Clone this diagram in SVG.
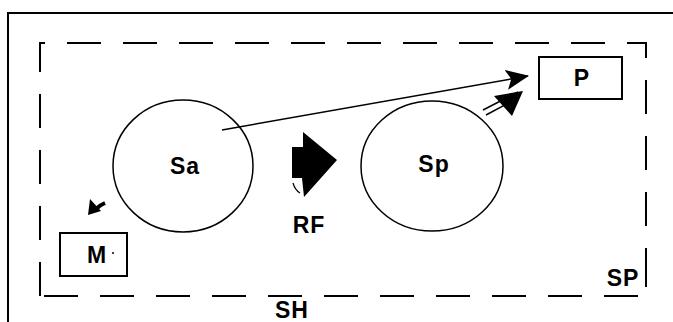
<svg xmlns="http://www.w3.org/2000/svg" width="673" height="322" viewBox="0 0 673 322">
<defs>
<style>
.t{font-family:"Liberation Sans",Arial,sans-serif;font-weight:bold;font-size:23px;letter-spacing:1px;fill:#000;text-anchor:middle}
.c{fill:none;stroke:#000;stroke-width:1.5}
.b{fill:#fff;stroke:#000;stroke-width:2}
.l{fill:none;stroke:#000;stroke-width:1.5}
</style>
<marker id="ah" markerUnits="userSpaceOnUse" markerWidth="30" markerHeight="26" refX="22" refY="11" orient="auto">
<path d="M0,1 L23,11 L0,21 L5,11 Z" fill="#000"/>
</marker>
</defs>
<rect width="673" height="322" fill="#fff"/>
<g id="frame">
<path d="M8,322 V13 H673" fill="none" stroke="#000" stroke-width="2"/>
</g>
<g id="SH">
<path d="M40,296 V43 H646 V296 Z" fill="none" stroke="#000" stroke-width="2" stroke-dasharray="34 22"/>
<text class="t" x="292" y="318">SH</text>
</g>
<g id="SP">
<path d="M646,270 V287" fill="none" stroke="#000" stroke-width="2"/>
<text class="t" x="623" y="286">SP</text>
</g>
<g id="Sa">
<ellipse class="c" cx="183" cy="166" rx="70" ry="66"/>
<text class="t" x="185" y="174">Sa</text>
</g>
<g id="Sp">
<ellipse class="c" cx="432" cy="166" rx="71" ry="65"/>
<text class="t" x="434" y="172">Sp</text>
</g>
<g id="P">
<rect class="b" x="539" y="57" width="83" height="42"/>
<text class="t" x="582" y="86">P</text>
</g>
<g id="M">
<rect class="b" x="60" y="233" width="67" height="43"/>
<text class="t" x="97" y="263">M</text>
<circle cx="113" cy="253" r="1" fill="#000"/>
</g>
<g id="RF">
<polygon points="292,147 303,147 303,132 337,160 304,197 302,178 292,178" fill="#000"/>
<path d="M293,183 Q295,190 300,193" fill="none" stroke="#000" stroke-width="1.2"/>
<text class="t" x="309" y="233">RF</text>
</g>
<g id="connectors">
<line class="l" x1="222" y1="130" x2="528" y2="76" marker-end="url(#ah)"/>
<line class="l" x1="483" y1="110" x2="518" y2="92"/>
<line class="l" x1="486" y1="115" x2="518" y2="98"/>
<path d="M523,91 L494,96 L512,116 Z" fill="#000"/>
<path d="M105,203 Q100,205 96,209" stroke="#000" stroke-width="4" fill="none"/>
<path d="M88,215 L90,199 L101,211 Z" fill="#000"/>
</g>
</svg>
